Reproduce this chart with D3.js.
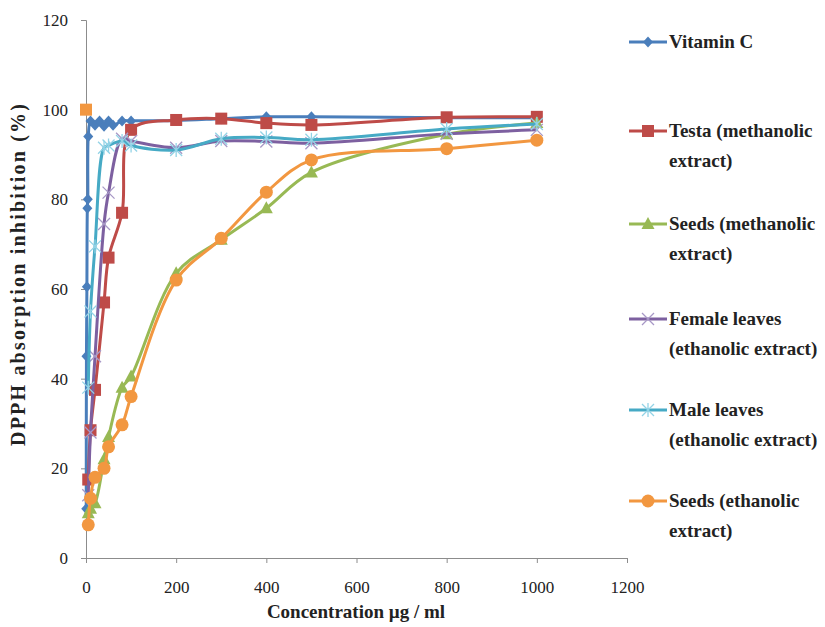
<!DOCTYPE html>
<html>
<head>
<meta charset="utf-8">
<script src="https://cdn.jsdelivr.net/npm/d3@7"></script>
<style>
  html, body { margin: 0; padding: 0; background: #fff; }
  svg { display: block; font-family: "Liberation Serif", "Times New Roman", serif; }
</style>
</head>
<body>
<div id="chart"></div>
<script>
// concentrations (µg/ml)
const vitCConc = [0.5, 1, 2, 3, 4, 5, 10, 20, 30, 40, 50, 60, 80, 100, 200, 300, 400, 500, 800, 1000];
const conc = [5, 10, 20, 40, 50, 80, 100, 200, 300, 400, 500, 800, 1000];

// DPPH inhibition (%)
const vitaminC = [11, 45, 60.5, 78, 80, 94, 97.5, 96.5, 97.5, 96.3, 97.5, 96.5, 97.5, 97.5, 97.6, 98, 98.4, 98.4, 98.2, 98.2];
const testaMeth = [17.5, 28.5, 37.5, 57, 67, 77, 95.5, 97.7, 98, 97, 96.6, 98.3, 98.4];
const seedsMeth = [10, 11, 12.2, 22, 27, 38, 40.5, 63.5, 71, 78, 86, 94.5, 97];
const femaleEth = [14, 28, 45, 74.5, 81.5, 93.5, 93, 91.5, 93, 92.9, 92.5, 94.6, 95.5];
const maleEth = [38, 55, 69.5, 91.5, 92, 93, 92, 91, 93.5, 93.8, 93.3, 95.7, 96.8];
const seedsEth = [7.4, 13.3, 18, 20, 24.8, 29.7, 36, 62, 71.3, 81.6, 88.8, 91.3, 93.2];
const strayPoint = { x: 0, y: 100 };

const xTicks = [0, 200, 400, 600, 800, 1000, 1200];
const yTicks = [0, 20, 40, 60, 80, 100, 120];

const series = [
  { label: ['Vitamin C'], xs: vitCConc, ys: vitaminC, color: '#4A7EBB', marker: 'diamond' },
  { label: ['Testa (methanolic', 'extract)'], xs: conc, ys: testaMeth, color: '#BE4B48', marker: 'square' },
  { label: ['Seeds (methanolic', 'extract)'], xs: conc, ys: seedsMeth, color: '#98B954', marker: 'triangle' },
  { label: ['Female leaves', '(ethanolic extract)'], xs: conc, ys: femaleEth, color: '#7D60A0', marker: 'x', markColor: '#A798C6' },
  { label: ['Male leaves', '(ethanolic extract)'], xs: conc, ys: maleEth, color: '#46AAC5', marker: 'star', markColor: '#93D3E6' },
  { label: ['Seeds (ethanolic', 'extract)'], xs: conc, ys: seedsEth, color: '#F29740', marker: 'circle' },
];

const width = 825, height = 627;
const plot = { left: 86, right: 627, top: 20, bottom: 558 };

const svg = d3.select('#chart').append('svg')
  .attr('width', width)
  .attr('height', height);

const x = d3.scaleLinear().domain([0, 1200]).range([plot.left, plot.right]);
const y = d3.scaleLinear().domain([0, 120]).range([plot.bottom, plot.top]);

// axes
svg.append('g')
  .attr('transform', `translate(0,${plot.bottom})`)
  .call(d3.axisBottom(x).tickValues(xTicks).tickFormat(d3.format('d'))
    .tickSizeOuter(0).tickSize(5).tickPadding(18));
svg.append('g')
  .attr('transform', `translate(${plot.left},0)`)
  .call(d3.axisLeft(y).tickValues(yTicks).tickFormat(d3.format('d'))
    .tickSizeOuter(0).tickSize(5).tickPadding(13));

svg.selectAll('.domain, .tick line').attr('stroke', '#8c8c8c').attr('stroke-width', 1);
svg.selectAll('.tick text')
  .attr('fill', '#222')
  .style('font-family', '"Liberation Serif", serif')
  .style('font-size', '17px');

// axis titles
svg.append('text')
  .attr('x', 356).attr('y', 618)
  .attr('text-anchor', 'middle')
  .style('font-size', '19px').style('font-weight', 'bold')
  .attr('fill', '#222')
  .text('Concentration µg / ml');

svg.append('text')
  .attr('transform', 'translate(25,275) rotate(-90)')
  .attr('text-anchor', 'middle')
  .attr('textLength', 342)
  .attr('lengthAdjust', 'spacing')
  .style('font-size', '20px').style('font-weight', 'bold')
  .attr('fill', '#222')
  .text('DPPH absorption inhibition (%)');

// markers
function drawMarker(g, type, cx, cy, s) {
  const col = s.markColor || s.color;
  if (type === 'diamond') {
    g.append('path').attr('d', `M${cx},${cy - 5.5}L${cx + 5},${cy}L${cx},${cy + 5.5}L${cx - 5},${cy}Z`).attr('fill', s.color);
  } else if (type === 'square') {
    g.append('rect').attr('x', cx - 6).attr('y', cy - 6).attr('width', 12).attr('height', 12).attr('fill', s.color);
  } else if (type === 'triangle') {
    g.append('path').attr('d', `M${cx},${cy - 7}L${cx + 6.5},${cy + 5}L${cx - 6.5},${cy + 5}Z`).attr('fill', s.color);
  } else if (type === 'circle') {
    g.append('circle').attr('cx', cx).attr('cy', cy).attr('r', 6.5).attr('fill', s.color);
  } else if (type === 'x') {
    g.append('path').attr('d', `M${cx - 6},${cy - 6}L${cx + 6},${cy + 6}M${cx - 6},${cy + 6}L${cx + 6},${cy - 6}`)
      .attr('stroke', col).attr('stroke-width', 1.3);
  } else if (type === 'star') {
    g.append('path').attr('d', `M${cx - 6},${cy - 6}L${cx + 6},${cy + 6}M${cx - 6},${cy + 6}L${cx + 6},${cy - 6}M${cx},${cy - 7}L${cx},${cy + 7}`)
      .attr('stroke', col).attr('stroke-width', 1.3);
  }
}

const line = d3.line()
  .x((d) => x(d[0]))
  .y((d) => y(d[1]))
  .curve(d3.curveCatmullRom.alpha(0.5));

const plotG = svg.append('g');

series.forEach((s) => {
  const pts = s.xs.map((v, i) => [v, s.ys[i]]);
  const g = plotG.append('g');
  g.append('path')
    .datum(pts)
    .attr('d', line)
    .attr('fill', 'none')
    .attr('stroke', s.color)
    .attr('stroke-width', 3)
    .attr('stroke-linejoin', 'round');
  pts.forEach((p) => drawMarker(g, s.marker, x(p[0]), y(p[1]), s));
});

// lone orange point at the top of the y axis
drawMarker(plotG, 'square', x(strayPoint.x), y(strayPoint.y), { color: '#F29740' });

// legend
const legendTop = [42, 131, 224, 319, 410, 501];
const lg = svg.append('g');
series.forEach((s, i) => {
  const cy = legendTop[i];
  lg.append('line')
    .attr('x1', 629).attr('x2', 667).attr('y1', cy).attr('y2', cy)
    .attr('stroke', s.color).attr('stroke-width', 3);
  drawMarker(lg, s.marker, 648, cy, s);
  s.label.forEach((t, j) => {
    lg.append('text')
      .attr('x', 669).attr('y', cy + 6 + j * 30)
      .style('font-size', '19px').style('font-weight', 'bold')
      .attr('fill', '#222')
      .text(t);
  });
});
</script>
</body>
</html>
